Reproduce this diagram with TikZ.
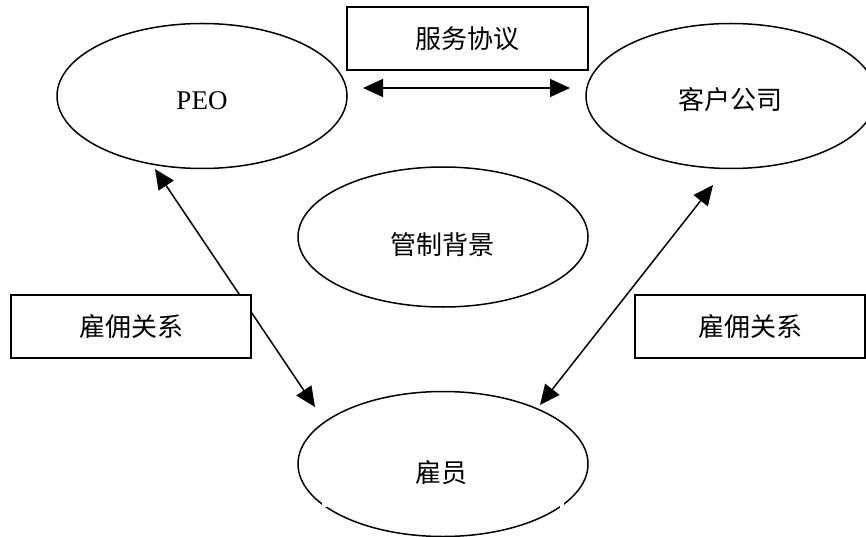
\documentclass[tikz,border=0pt]{standalone}
\usepackage{fontspec}
\setmainfont{Liberation Serif}
\newfontfamily\cjk{Noto Sans CJK SC}
\usetikzlibrary{shapes.geometric,arrows.meta}
\begin{document}
\begin{tikzpicture}[x=1pt,y=-1pt,
  oval/.style={draw, ellipse, line width=1.5pt, minimum width=290pt, minimum height=145pt, inner sep=0pt},
  ovaltext/.style={inner sep=0pt, font=\cjk\fontsize{26}{30}\selectfont},
  labelbox/.style={draw, fill=white, line width=1.5pt, minimum height=63pt, inner sep=0pt, font=\cjk\fontsize{26}{30}\selectfont},
  link/.style={line width=1.5pt, {Triangle[length=20pt,width=18pt]}-{Triangle[length=20pt,width=18pt]}}]
\useasboundingbox (0,0) rectangle (866,537);
% ellipses
\node[oval] (peo) at (202,96) {};
\node[inner sep=0pt, font=\fontsize{27}{30}\selectfont] (peotext) at (202,101) {PEO};
\node[oval] (client) at (731,96) {};
\node[ovaltext] (clienttext) at (730,100) {客户公司};
\node[oval, minimum height=140pt] (reg) at (443,237) {};
\node[ovaltext] (regtext) at (442,245) {管制背景};
\node[oval] (emp) at (443,464) {};
\node[ovaltext] (emptext) at (441,473) {雇员};
% small breaks in the employee ellipse outline
\fill[white] (322,503) rectangle (326.5,507);
\fill[white] (559.5,503) rectangle (563.5,507.5);
% connector end points
\coordinate (topL) at (363,88);
\coordinate (topR) at (570,88);
\coordinate (peoB) at (155,169);
\coordinate (empL) at (315,407);
\coordinate (clientB) at (713,185);
\coordinate (empR) at (540,405);
% connectors
\draw[link] (topL) -- (topR);
\draw[link] (peoB) -- (empL);
\draw[link] (clientB) -- (empR);
% label boxes
\node[labelbox, minimum width=241pt] (service) at (467.5,38.5) {服务协议};
\node[labelbox, minimum width=240pt] (empleft) at (131,326.5) {雇佣关系};
\node[labelbox, minimum width=230pt] (empright) at (750,326.5) {雇佣关系};
\end{tikzpicture}
\end{document}
